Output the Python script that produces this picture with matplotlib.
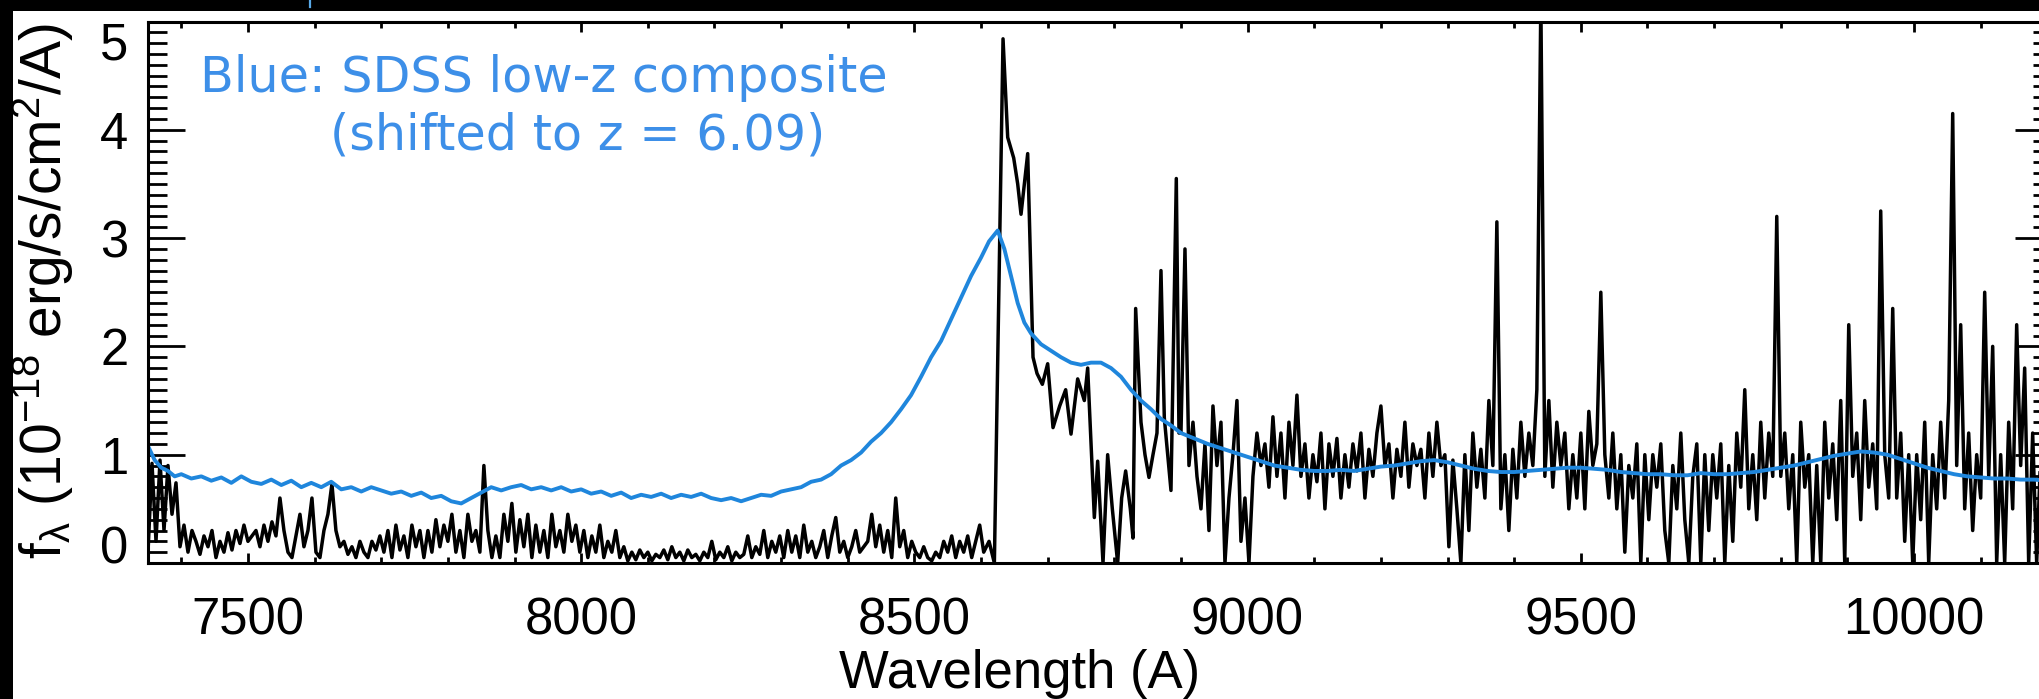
import numpy as np
import matplotlib.pyplot as plt
from matplotlib.patches import Rectangle
from matplotlib.lines import Line2D
from matplotlib.ticker import MultipleLocator

# observed spectrum, flux in 1e-18 erg/s/cm2/A
# blue side of Lya, 6 A sampling from 7350 A
wave_blue = np.arange(7350, 8605, 6)
flux_blue = [0.1, 0.92, 0.2, 0.95, 0.3, 0.9, 0.45, 0.74, 0.15, 0.35,
             0.1, 0.3, 0.2, 0.08, 0.25, 0.15, 0.3, 0.05, 0.2, 0.1,
             0.28, 0.12, 0.3, 0.18, 0.35, 0.2, 0.25, 0.3, 0.15, 0.35,
             0.2, 0.38, 0.25, 0.6, 0.3, 0.1, 0.05, 0.25, 0.45, 0.15,
             0.3, 0.6, 0.1, 0.05, 0.3, 0.45, 0.73, 0.3, 0.15, 0.2,
             0.08, 0.15, 0.05, 0.2, 0.1, 0.05, 0.2, 0.12, 0.25, 0.1,
             0.3, 0.05, 0.35, 0.12, 0.25, 0.05, 0.35, 0.15, 0.3, 0.05,
             0.3, 0.1, 0.4, 0.15, 0.35, 0.2, 0.45, 0.1, 0.3, 0.05,
             0.45, 0.2, 0.3, 0.1, 0.9, 0.3, 0.05, 0.25, 0.05, 0.45,
             0.2, 0.55, 0.1, 0.4, 0.15, 0.45, 0.05, 0.35, 0.1, 0.3,
             0.05, 0.45, 0.15, 0.3, 0.1, 0.45, 0.2, 0.35, 0.1, 0.3,
             0.05, 0.25, 0.1, 0.35, 0.05, 0.2, 0.1, 0.3, 0.05, 0.15,
             0.02, 0.1, 0.03, 0.12, 0.05, 0.1, 0.02, 0.08, 0.05, 0.12,
             0.03, 0.15, 0.05, 0.1, 0.02, 0.12, 0.05, 0.08, 0.02, 0.1,
             0.05, 0.2, 0.03, 0.1, 0.05, 0.15, 0.02, 0.1, 0.05, 0.08,
             0.25, 0.05, 0.15, 0.08, 0.3, 0.05, 0.2, 0.1, 0.25, 0.05,
             0.3, 0.1, 0.25, 0.05, 0.35, 0.1, 0.2, 0.05, 0.15, 0.3,
             0.05, 0.25, 0.42, 0.1, 0.2, 0.05, 0.15, 0.3, 0.1, 0.15,
             0.2, 0.45, 0.15, 0.35, 0.1, 0.3, 0.05, 0.6, 0.15, 0.3,
             0.05, 0.2, 0.1, 0.05, 0.15, 0.05, 0.02, 0.1, 0.05, 0.2,
             0.1, 0.25, 0.05, 0.2, 0.1, 0.25, 0.05, 0.2, 0.35, 0.1]

# Lya break and emission
wave_lya = [8612, 8620, 8633, 8640, 8649, 8655, 8660, 8670, 8678, 8684, 8692, 8700, 8708, 8718,
            8727, 8735, 8745, 8755, 8760, 8770, 8775, 8783, 8790, 8797, 8805, 8811, 8817, 8824,
            8828, 8832, 8840, 8846, 8852, 8858, 8864, 8870, 8875, 8885, 8893, 8897]
flux_lya = [0.2, 0.0, 4.84, 3.93, 3.74, 3.5, 3.22, 3.78, 1.9, 1.75, 1.65, 1.84, 1.25, 1.45,
            1.6, 1.19, 1.7, 1.5, 1.8, 0.42, 0.94, 0.0, 1.0, 0.5, 0.0, 0.6, 0.85, 0.5,
            0.23, 2.35, 1.3, 1.0, 0.79, 1.0, 1.2, 2.7, 1.34, 0.67, 3.55, 1.2]

# red side, 6 A sampling from 8900 A
wave_red = np.arange(8900, 8900 + 6 * 220, 6)
flux_red = [1.2, 2.9, 0.9, 1.3, 0.8, 0.5, 1.1, 0.3, 1.45, 0.9,
            1.3, 0.0, 0.6, 1.0, 1.5, 0.2, 0.6, 0.0, 0.8, 1.2,
            0.9, 1.1, 0.7, 1.35, 0.8, 1.2, 0.6, 1.3, 0.9, 1.55,
            0.8, 1.1, 0.6, 1.0, 0.75, 1.2, 0.5, 1.1, 0.8, 1.15,
            0.6, 1.0, 0.7, 1.1, 0.85, 1.2, 0.6, 1.05, 0.8, 1.2,
            1.45, 0.9, 1.1, 0.6, 1.05, 0.8, 1.3, 0.7, 1.1, 0.9,
            1.05, 0.6, 1.2, 0.8, 1.3, 0.9, 1.0, 0.15, 0.95, 0.5,
            0.0, 1.0, 0.3, 1.2, 0.7, 1.05, 0.6, 1.5, 0.9, 3.15,
            0.5, 1.0, 0.3, 1.05, 0.6, 1.3, 0.8, 1.2, 0.9, 1.6,
            5.2, 0.8, 1.5, 0.7, 1.3, 0.9, 1.2, 0.5, 1.0, 0.6,
            1.2, 0.5, 1.4, 0.9, 1.1, 2.5, 1.0, 0.6, 1.2, 0.5,
            1.0, 0.1, 0.9, 0.6, 1.1, 0.0, 1.0, 0.4, 1.0, 0.7,
            1.1, 0.3, 0.0, 0.9, 0.5, 1.2, 0.4, 0.0, 0.8, 1.1,
            0.0, 1.0, 0.3, 1.0, 0.6, 1.1, 0.0, 0.9, 0.2, 1.2,
            0.7, 1.6, 0.5, 1.0, 0.4, 1.3, 0.6, 1.2, 0.8, 3.2,
            0.8, 1.2, 0.5, 1.0, 0.0, 1.3, 0.7, 1.0, 0.0, 0.9,
            0.0, 1.3, 0.6, 1.1, 0.4, 1.5, 0.0, 2.2, 0.8, 1.2,
            0.4, 1.5, 0.7, 1.1, 0.5, 3.25, 1.0, 0.6, 2.35, 0.6,
            1.2, 0.2, 1.0, 0.0, 1.0, 0.4, 1.3, 0.0, 1.0, 0.5,
            1.3, 0.6, 1.5, 4.15, 0.9, 2.2, 0.5, 1.2, 0.3, 1.0,
            0.6, 2.5, 0.8, 2.0, 0.0, 1.0, 0.0, 1.3, 0.5, 2.2,
            0.9, 1.8, 0.0, 1.2, 0.0, 1.0, 0.7, 1.1, 0.6, 0.9]

# SDSS low-z composite, shifted to z = 6.09
wave_comp = [7350, 7360, 7370, 7380, 7390, 7400, 7415, 7430, 7445, 7460, 7475, 7490, 7505, 7520, 7535,
             7550, 7565, 7580, 7595, 7610, 7625, 7640, 7655, 7670, 7685, 7700, 7715, 7730, 7745, 7760,
             7775, 7790, 7805, 7820, 7835, 7850, 7865, 7880, 7895, 7910, 7925, 7940, 7955, 7970, 7985,
             8000, 8015, 8030, 8045, 8060, 8075, 8090, 8105, 8120, 8135, 8150, 8165, 8180, 8195, 8210,
             8225, 8240, 8255, 8270, 8285, 8300, 8315, 8330, 8345, 8360, 8375, 8390, 8405, 8420, 8435,
             8450, 8465, 8480, 8495, 8510, 8525, 8540, 8555, 8570, 8585, 8600, 8612, 8625, 8635, 8645,
             8655, 8665, 8675, 8690, 8705, 8720, 8735, 8750, 8765, 8780, 8795, 8810, 8825, 8840, 8855,
             8870, 8885, 8900, 8920, 8940, 8960, 8980, 9000, 9020, 9040, 9060, 9080, 9100, 9120, 9140,
             9160, 9180, 9200, 9220, 9240, 9260, 9280, 9300, 9320, 9340, 9360, 9380, 9400, 9420, 9440,
             9460, 9480, 9500, 9520, 9540, 9560, 9580, 9600, 9620, 9640, 9660, 9680, 9700, 9720, 9740,
             9760, 9780, 9800, 9820, 9840, 9860, 9880, 9900, 9920, 9940, 9960, 9980, 10000, 10020, 10040,
             10060, 10080, 10100, 10120, 10140, 10160, 10180, 10200]
flux_comp = [1.08, 0.95, 0.88, 0.85, 0.8, 0.82, 0.78, 0.8, 0.76, 0.79, 0.74, 0.8, 0.75, 0.73, 0.77,
             0.72, 0.76, 0.7, 0.74, 0.7, 0.75, 0.68, 0.7, 0.66, 0.7, 0.67, 0.64, 0.66, 0.62, 0.65,
             0.6, 0.62, 0.57, 0.55, 0.6, 0.65, 0.7, 0.67, 0.7, 0.72, 0.68, 0.7, 0.67, 0.7, 0.66,
             0.68, 0.64, 0.66, 0.62, 0.65, 0.6, 0.63, 0.61, 0.64, 0.6, 0.63, 0.61, 0.64, 0.6, 0.58,
             0.6, 0.57, 0.6, 0.63, 0.62, 0.66, 0.68, 0.7, 0.75, 0.77, 0.82, 0.9, 0.95, 1.02, 1.12,
             1.2, 1.3, 1.42, 1.55, 1.72, 1.9, 2.05, 2.25, 2.45, 2.65, 2.82, 2.97, 3.07, 2.9, 2.65,
             2.4, 2.22, 2.12, 2.02, 1.96, 1.9, 1.85, 1.83, 1.85, 1.85, 1.8, 1.72, 1.6, 1.5, 1.42,
             1.33, 1.27, 1.2, 1.15, 1.1, 1.06, 1.02, 0.98, 0.94, 0.9, 0.88, 0.86, 0.85, 0.85, 0.86,
             0.85, 0.87, 0.89, 0.9, 0.92, 0.94, 0.95, 0.93, 0.9, 0.87, 0.85, 0.84, 0.84, 0.85, 0.86,
             0.87, 0.88, 0.88, 0.87, 0.86, 0.84, 0.83, 0.82, 0.82, 0.81, 0.81, 0.83, 0.82, 0.82, 0.83,
             0.84, 0.86, 0.88, 0.9, 0.93, 0.96, 0.99, 1.01, 1.03, 1.02, 1.0, 0.96, 0.92, 0.88, 0.85,
             0.82, 0.8, 0.79, 0.78, 0.78, 0.77, 0.77, 0.76]

ytick_vals = [0, 1, 2, 3, 4, 5]

wave_obs = np.concatenate([wave_blue, wave_lya, wave_red])
flux_obs = np.concatenate([flux_blue, flux_lya, flux_red])

plt.rcParams['font.family'] = 'Liberation Sans'
plt.rcParams['mathtext.fontset'] = 'custom'
plt.rcParams['mathtext.rm'] = 'Liberation Sans'
plt.rcParams['mathtext.it'] = 'Liberation Sans:italic'
plt.rcParams['mathtext.default'] = 'regular'

fig = plt.figure(figsize=(20.39, 6.99), dpi=100, facecolor='black')
# white page on the black background
fig.add_artist(Rectangle((13 / 2039, 0), 1, (699 - 11) / 699, transform=fig.transFigure,
                         facecolor='white', edgecolor='none', zorder=0))
fig.add_artist(Line2D([310 / 2039, 310 / 2039], [1, 1 - 7 / 699], transform=fig.transFigure,
                      color='#5aaae8', lw=1.6))

ax = fig.add_axes([148 / 2039, 136 / 699, 1904 / 2039, 541.5 / 699])
ax.set_facecolor('none')

ax.plot(wave_obs, flux_obs, color='black', lw=2.5, solid_joinstyle='round')
ax.plot(wave_comp, flux_comp, color='#1f86dc', lw=2.8, solid_joinstyle='round')

ax.set_xlim(7350, 10207)
ax.set_ylim(0, 5.0)

ax.xaxis.set_major_locator(MultipleLocator(500))
ax.xaxis.set_minor_locator(MultipleLocator(100))
ax.set_yticks(ytick_vals)
ax.yaxis.set_minor_locator(MultipleLocator(0.1))
ax.tick_params(which='both', direction='in', top=True, right=True, width=2.0, color='black')
ax.tick_params(axis='x', which='major', length=7.5, pad=24, labelsize=36.5)
ax.tick_params(axis='x', which='minor', length=4)
ax.tick_params(axis='y', which='major', length=26.5, pad=14, labelsize=36.5)
ax.tick_params(axis='y', which='minor', length=13.5)
for s in ax.spines.values():
    s.set_linewidth(2.2)

# end labels sit inside the axis range
yticks = ax.yaxis.get_major_ticks()
yticks[0].label1.set_va('baseline')
yticks[-1].label1.set_va('top')

ax.set_xlabel('Wavelength (A)', fontsize=38)
ax.xaxis.set_label_coords(0.458, -0.205)
ax.xaxis.label.set_va('center')

ax.set_ylabel(r'f$_\lambda$ (10$^{-18}$ erg/s/cm$^2$/A)', fontsize=41)
ax.yaxis.set_label_coords(-0.0551, 0.502)
ax.yaxis.label.set_va('center')

ax.text(0.0273, 0.8957, 'Blue: SDSS low-z composite', transform=ax.transAxes, fontsize=35.5,
        family='DejaVu Sans', color='#3d8fe8', va='center', ha='left')
ax.text(0.0956, 0.790, '(shifted to z = 6.09)', transform=ax.transAxes, fontsize=35.5,
        family='DejaVu Sans', color='#3d8fe8', va='center', ha='left')

fig.savefig('out.png', dpi=100, facecolor='black')
